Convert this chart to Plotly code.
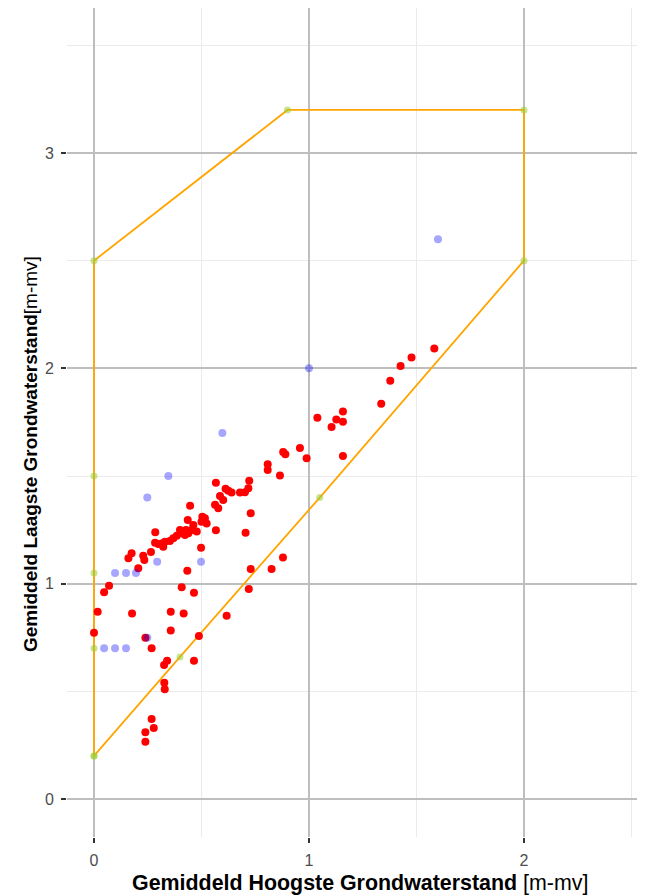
import plotly.graph_objects as go

# Polygon (boundary) vertices
poly_x = [0, 0, 0, 0, 0, 0.9, 2, 2, 1.05, 0.4, 0]
poly_y = [0.2, 0.7, 1.05, 1.5, 2.5, 3.2, 3.2, 2.5, 1.4, 0.66, 0.2]

# Red points
red_x = [0.000, 0.017, 0.047, 0.070, 0.160, 0.175, 0.177, 0.206, 0.229, 0.234,
         0.239, 0.239, 0.239, 0.265, 0.268, 0.268, 0.278, 0.285, 0.284, 0.299,
         0.315, 0.322, 0.330, 0.326, 0.340, 0.327, 0.329, 0.353, 0.357, 0.357,
         0.369, 0.385, 0.400, 0.408, 0.411, 0.417, 0.423, 0.428, 0.434, 0.436,
         0.439, 0.447, 0.454, 0.462, 0.465, 0.465, 0.478, 0.488, 0.498, 0.500,
         0.504, 0.516, 0.524, 0.567, 0.563, 0.578, 0.586, 0.601, 0.567, 0.612,
         0.617, 0.625, 0.640, 0.679, 0.702, 0.705, 0.718, 0.722, 0.720, 0.729,
         0.729, 0.808, 0.808, 0.826, 0.865, 0.879, 0.880, 0.890, 0.958, 0.989,
         1.039, 1.105, 1.127, 1.158, 1.158, 1.158, 1.336, 1.378, 1.426, 1.477,
         1.583]
red_y = [0.772, 0.870, 0.960, 0.990, 1.118, 1.141, 0.862, 1.072, 1.130, 1.110,
         0.749, 0.310, 0.266, 1.147, 0.700, 0.372, 0.330, 1.239, 1.190, 1.184,
         1.187, 1.172, 1.195, 0.622, 0.642, 0.540, 0.510, 1.198, 0.870, 0.782,
         1.211, 1.222, 1.249, 0.983, 1.234, 0.862, 1.226, 1.249, 1.060, 1.296,
         1.234, 1.362, 1.249, 1.273, 0.958, 0.642, 1.242, 0.757, 1.167, 1.288,
         1.311, 1.304, 1.280, 1.248, 1.366, 1.350, 1.407, 1.389, 1.469, 1.441,
         0.851, 1.432, 1.423, 1.423, 1.425, 1.237, 1.443, 1.478, 0.975, 1.327,
         1.068, 1.555, 1.528, 1.068, 1.502, 1.121, 1.612, 1.601, 1.630, 1.582,
         1.771, 1.728, 1.762, 1.752, 1.800, 1.593, 1.835, 1.942, 2.011, 2.050,
         2.092]

# Blue points
blue_x = [1.60, 1.00, 0.597, 0.346, 0.248, 0.498, 0.294, 0.195, 0.149, 0.098,
          0.047, 0.098, 0.149, 0.248]
blue_y = [2.60, 2.00, 1.70, 1.50, 1.40, 1.102, 1.102, 1.05, 1.05, 1.05,
          0.70, 0.70, 0.70, 0.749]

x_ticks = [0, 1, 2]
y_ticks = [0, 1, 2, 3]

FONT = "Liberation Sans, Arial, sans-serif"

fig = go.Figure()
fig.add_trace(go.Scatter(x=poly_x, y=poly_y, mode="lines",
                         line=dict(color="#FFA500", width=1.8),
                         hoverinfo="skip", showlegend=False))
fig.add_trace(go.Scatter(x=poly_x, y=poly_y, mode="markers",
                         marker=dict(color="rgba(154,205,50,0.55)", size=7, line=dict(width=0)),
                         showlegend=False))
fig.add_trace(go.Scatter(x=red_x, y=red_y, mode="markers",
                         marker=dict(color="#FF0000", size=8, line=dict(width=0)),
                         showlegend=False))
fig.add_trace(go.Scatter(x=blue_x, y=blue_y, mode="markers",
                         marker=dict(color="rgba(0,0,255,0.35)", size=8, line=dict(width=0)),
                         showlegend=False))

axis_common = dict(
    showgrid=True, gridcolor="#BEBEBE", gridwidth=1.8,
    zeroline=False, showline=False,
    ticks="outside", ticklen=5, tickwidth=1.5, tickcolor="#333333",
    ticklabelstandoff=4,
    tickfont=dict(family=FONT, size=16, color="#4D4D4D"),
    minor=dict(dtick=0.5, tick0=0, showgrid=True, gridcolor="#EBEBEB", gridwidth=1, ticks=""),
)

fig.update_layout(
    width=637, height=888,
    margin=dict(l=59, r=0, t=0, b=59),
    paper_bgcolor="white", plot_bgcolor="white",
    xaxis=dict(range=[-0.1256, 2.563], tickvals=x_ticks, ticktext=[str(v) for v in x_ticks], **axis_common),
    yaxis=dict(range=[-0.1765, 3.6735], tickvals=y_ticks, ticktext=[str(v) for v in y_ticks], **axis_common),
    font=dict(family=FONT),
    annotations=[
        dict(text="<b>Gemiddeld Hoogste Grondwaterstand</b> [m-mv]",
             xref="paper", yref="paper", x=0.5, y=0, xanchor="center", yanchor="middle",
             yshift=-46, xshift=4, showarrow=False,
             font=dict(family=FONT, size=21.4, color="black")),
        dict(text="<b>Gemiddeld Laagste Grondwaterstand</b>[m-mv]",
             xref="paper", yref="paper", x=0, y=0.462, xanchor="center", yanchor="middle",
             xshift=-37, textangle=-90, showarrow=False,
             font=dict(family=FONT, size=19, color="black")),
    ],
)

fig.write_html("out.html")
